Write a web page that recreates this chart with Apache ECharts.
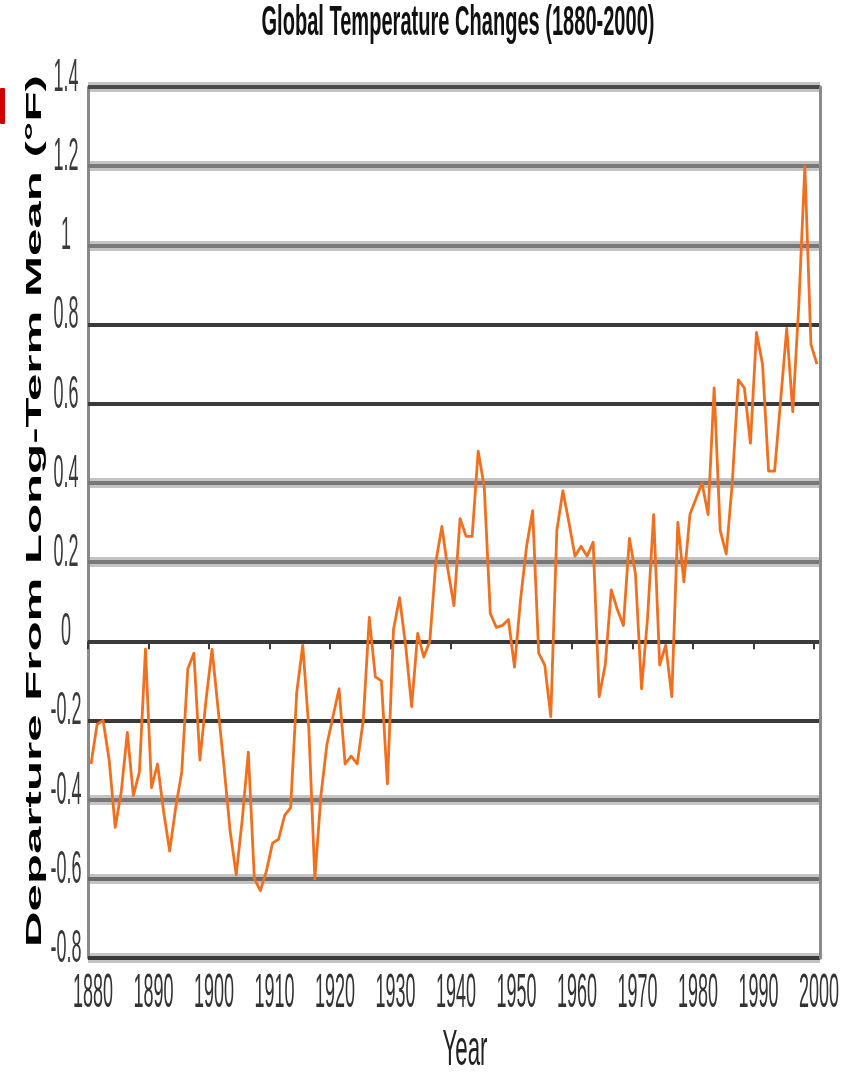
<!DOCTYPE html>
<html><head><meta charset="utf-8">
<script src="https://cdn.jsdelivr.net/npm/echarts@6/dist/echarts.min.js"></script>
<style>html,body{margin:0;padding:0;background:#fff}#c{width:847px;height:1073px}</style>
</head><body><div id="c"></div>
<script>
const titleText = 'Global Temperature Changes (1880-2000)';
const xAxisName = 'Year';
const yAxisName = 'Departure From Long-Term Mean (°F)';

const years = [
  1880,1881,1882,1883,1884,1885,1886,1887,1888,1889,
  1890,1891,1892,1893,1894,1895,1896,1897,1898,1899,
  1900,1901,1902,1903,1904,1905,1906,1907,1908,1909,
  1910,1911,1912,1913,1914,1915,1916,1917,1918,1919,
  1920,1921,1922,1923,1924,1925,1926,1927,1928,1929,
  1930,1931,1932,1933,1934,1935,1936,1937,1938,1939,
  1940,1941,1942,1943,1944,1945,1946,1947,1948,1949,
  1950,1951,1952,1953,1954,1955,1956,1957,1958,1959,
  1960,1961,1962,1963,1964,1965,1966,1967,1968,1969,
  1970,1971,1972,1973,1974,1975,1976,1977,1978,1979,
  1980,1981,1982,1983,1984,1985,1986,1987,1988,1989,
  1990,1991,1992,1993,1994,1995,1996,1997,1998,1999,
  2000
];
const anomalies = [
  -0.31,-0.21,-0.20,-0.30,-0.47,-0.38,-0.23,-0.39,-0.33,-0.02,
  -0.37,-0.31,-0.43,-0.53,-0.42,-0.33,-0.07,-0.03,-0.30,-0.15,
  -0.02,-0.17,-0.32,-0.48,-0.59,-0.45,-0.28,-0.60,-0.63,-0.58,
  -0.51,-0.50,-0.44,-0.42,-0.13,-0.01,-0.22,-0.60,-0.39,-0.26,
  -0.19,-0.12,-0.31,-0.29,-0.31,-0.20,0.06,-0.09,-0.10,-0.36,
  0.03,0.11,-0.01,-0.165,0.02,-0.04,0.00,0.20,0.29,0.18,
  0.09,0.31,0.265,0.265,0.48,0.39,0.07,0.035,0.04,0.055,
  -0.065,0.105,0.24,0.33,-0.03,-0.06,-0.19,0.28,0.38,0.30,
  0.215,0.24,0.215,0.25,-0.14,-0.06,0.13,0.08,0.04,0.26,
  0.17,-0.12,0.06,0.32,-0.06,-0.01,-0.14,0.30,0.15,0.32,
  0.36,0.40,0.32,0.64,0.28,0.22,0.40,0.66,0.64,0.50,
  0.78,0.70,0.43,0.43,0.61,0.79,0.58,0.85,1.20,0.75,
  0.70
];
const xTicks = [1880,1890,1900,1910,1920,1930,1940,1950,1960,1970,1980,1990,2000];
const xTickLabels = ['1880','1890','1900','1910','1920','1930','1940','1950','1960','1970','1980','1990','2000'];
const yTicks = [-0.8,-0.6,-0.4,-0.2,0,0.2,0.4,0.6,0.8,1,1.2,1.4];
const yTickLabels = ['-0.8','-0.6','-0.4','-0.2','0','0.2','0.4','0.6','0.8','1','1.2','1.4'];

const FONT = '"Liberation Sans", Arial, sans-serif';
const mctx = document.createElement('canvas').getContext('2d');
function measure(text, size, weight) {
  mctx.font = (weight || 'normal') + ' ' + size + 'px ' + FONT;
  return mctx.measureText(text).width;
}

const bandColors = ['#c4c4c4','#c4c4c4','#c4c4c4','rgba(0,0,0,0)','rgba(0,0,0,0)','#c4c4c4','#c4c4c4','rgba(0,0,0,0)','rgba(0,0,0,0)','#c4c4c4','#c4c4c4','#c4c4c4'];
const lineColors = ['#3a3a3a','#6a6a6a','#787878','#3a3a3a','#3a3a3a','#787878','#787878','#3a3a3a','#3a3a3a','#787878','#787878','#4a4a4a'];

const chart = echarts.init(document.getElementById('c'), null, {renderer: 'canvas'});
chart.setOption({
  animation: false,
  backgroundColor: '#ffffff',
  grid: {left: 88, top: 87, width: 732, height: 871, containLabel: false},
  xAxis: {
    type: 'value', min: 1880, max: 2001, interval: 10,
    axisLine: {show: false},
    axisTick: {show: true, customValues: xTicks, length: 8, lineStyle: {color: '#3a3a3a', width: 2}},
    axisLabel: {show: false},
    splitLine: {show: false}
  },
  yAxis: [{
    type: 'value', min: -0.8, max: 1.4, interval: 0.2, position: 'left', z: 0,
    axisLine: {show: true, lineStyle: {color: '#8a8a8a', width: 3}},
    axisTick: {show: false}, axisLabel: {show: false},
    splitLine: {show: true, lineStyle: {color: bandColors, width: 10}}
  }, {
    type: 'value', min: -0.8, max: 1.4, interval: 0.2, position: 'right', z: 1,
    axisLine: {show: true, lineStyle: {color: '#8a8a8a', width: 3}},
    axisTick: {show: false}, axisLabel: {show: false},
    splitLine: {show: true, lineStyle: {color: lineColors, width: 4}}
  }],
  series: [{
    type: 'line',
    // annual means plotted at mid-year
    data: years.map((y, i) => [y + 0.5, anomalies[i]]),
    showSymbol: false,
    symbol: 'none',
    clip: false,
    z: 5,
    lineStyle: {color: '#f07020', width: 2.8, join: 'round'}
  }]
});

const graphics = [];
graphics.push({type: 'rect', shape: {x: 0, y: 88, width: 5, height: 36, r: 1}, style: {fill: '#cc0000'}});

function addText(text, x, y, size, weight, fill, sx, sy, rot) {
  graphics.push({
    type: 'text', x: x, y: y, scaleX: sx, scaleY: sy, rotation: rot || 0, z: 10,
    style: {text: text, font: (weight || 'normal') + ' ' + size + 'px ' + FONT, fill: fill,
            textAlign: 'center', textVerticalAlign: 'middle', verticalAlign: 'middle'}
  });
}

const tW = measure(titleText, 17, 'bold');
addText(titleText, 458, 24, 17, 'bold', '#111', 393 / tW, 2.45);

xTicks.forEach((v, i) => {
  const px = chart.convertToPixel({xAxisIndex: 0}, v);
  const w = measure(xTickLabels[i], 18);
  addText(xTickLabels[i], px + 5, 994, 18, 'normal', '#333', 40 / w, 2.65);
});
yTicks.forEach((v, i) => {
  const py = chart.convertToPixel({yAxisIndex: 0}, v);
  addText(yTickLabels[i], 66, py - 9, 18, 'normal', '#3a3a3a', 1.0, 2.6);
});
const yrW = measure(xAxisName, 18);
addText(xAxisName, 465, 1051, 18, 'normal', '#222', 45 / yrW, 2.8);
const ynW = measure(yAxisName, 22, 'bold');
addText(yAxisName, 35, 511, 22, 'bold', '#000', 872 / ynW, 1.0, Math.PI / 2);

chart.setOption({graphic: {elements: graphics}});
</script>
</body></html>
